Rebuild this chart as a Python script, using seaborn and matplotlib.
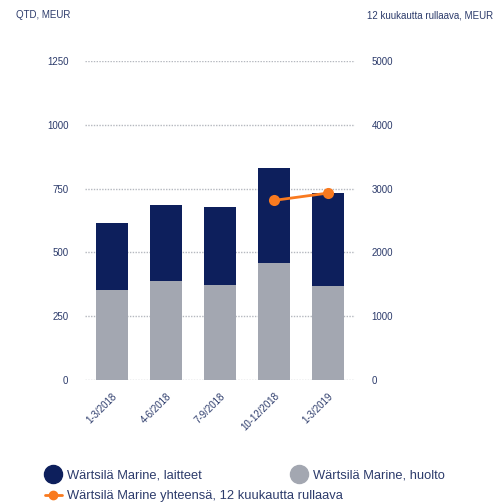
import matplotlib
matplotlib.use("Agg")
import matplotlib.pyplot as plt
from matplotlib.lines import Line2D
import seaborn as sns
import pandas as pd
import numpy as np

categories = ["1-3/2018", "4-6/2018", "7-9/2018", "10-12/2018", "1-3/2019"]
laitteet = [262, 298, 306, 373, 365]
huolto = [353, 388, 372, 458, 368]
rolling_cats = ["10-12/2018", "1-3/2019"]
rolling_vals = [2815, 2930]
left_ticks = [0, 250, 500, 750, 1000, 1250]
right_ticks = [0, 1000, 2000, 3000, 4000, 5000]

NAVY = "#0d1f5c"
GRAY = "#a3a7b1"
ORANGE = "#f97a1f"
TXT = "#2c3b6b"

sns.set_theme(style="white")
plt.rcParams["font.family"] = ["Liberation Sans", "DejaVu Sans"]

fig = plt.figure(figsize=(4.95, 5.04), dpi=100)
ax = fig.add_axes([85 / 495, 1 - 380 / 504, 270 / 495, 319 / 504])

total = [a + b for a, b in zip(laitteet, huolto)]
df = pd.DataFrame({"cat": categories, "total": total, "huolto": huolto})

sns.barplot(data=df, x="cat", y="total", color=NAVY, saturation=1, width=0.6,
            linewidth=0, edgecolor="none", ax=ax, zorder=3)
sns.barplot(data=df, x="cat", y="huolto", color=GRAY, saturation=1, width=0.6,
            linewidth=0, edgecolor="none", ax=ax, zorder=3)

ax.set_xlim(-0.5, 4.5)
ax.set_ylim(0, 1250)
ax.set_yticks(left_ticks)
ax.set_yticklabels([str(t) for t in left_ticks])
ax.set_xlabel("")
ax.set_ylabel("")
for s in ax.spines.values():
    s.set_visible(False)
ax.grid(False)
for t in left_ticks:
    ax.axhline(t, color="#b5b8bf", linestyle=(0, (1, 1)), linewidth=1.0, zorder=1)
ax.tick_params(axis="y", length=0, pad=12, labelsize=7, labelcolor=TXT)
ax.tick_params(axis="x", length=0, pad=8, labelsize=7, labelcolor=TXT)
for lbl in ax.get_xticklabels():
    lbl.set_rotation(45)
    lbl.set_ha("right")
    lbl.set_rotation_mode("anchor")

ax2 = ax.twinx()
pos = [categories.index(c) for c in rolling_cats]
ldf = pd.DataFrame({"x": pos, "y": rolling_vals})
sns.lineplot(data=ldf, x="x", y="y", color=ORANGE, linewidth=2, marker="o",
             markersize=8, markeredgewidth=0, ax=ax2, zorder=5)
ax2.set_ylim(0, 5000)
ax2.set_yticks(right_ticks)
ax2.set_yticklabels([str(t) for t in right_ticks])
ax2.set_xlim(-0.5, 4.5)
ax2.set_xlabel("")
ax2.set_ylabel("")
ax2.grid(False)
for s in ax2.spines.values():
    s.set_visible(False)
ax2.tick_params(axis="y", length=0, pad=12, labelsize=7, labelcolor=TXT)

fig.text(16 / 495, 1 - 15 / 504, "QTD, MEUR", fontsize=7, color=TXT, va="center", ha="left")
fig.text(493 / 495, 1 - 15 / 504, "12 kuukautta rullaava, MEUR", fontsize=7, color=TXT, va="center", ha="right")

h1 = Line2D([], [], linestyle="none", marker="o", markersize=13, color=NAVY)
h2 = Line2D([], [], linestyle="none", marker="o", markersize=13, color=GRAY)
h3 = Line2D([], [], color=ORANGE, linewidth=2, marker="o", markersize=6)
common = dict(frameon=False, fontsize=9.3, labelcolor=TXT, handletextpad=0.4,
              borderpad=0, borderaxespad=0, loc="center left", handlelength=1.3)
fig.legend([h1], ["Wärtsilä Marine, laitteet"], bbox_to_anchor=(45 / 495, 1 - 475 / 504), **common)
fig.legend([h2], ["Wärtsilä Marine, huolto"], bbox_to_anchor=(291 / 495, 1 - 475 / 504), **common)
fig.legend([h3], ["Wärtsilä Marine yhteensä, 12 kuukautta rullaava"], bbox_to_anchor=(45 / 495, 1 - 496 / 504), **common)

fig.savefig("out.png", dpi=100)
